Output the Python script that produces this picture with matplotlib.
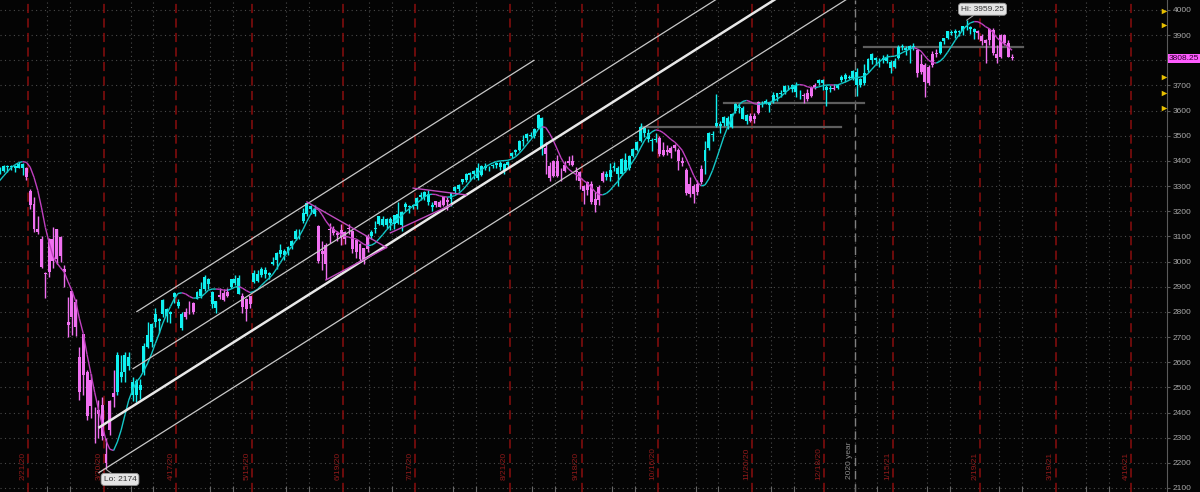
import numpy as np
import pandas as pd
from matplotlib import pyplot as plt
from matplotlib import transforms
from matplotlib.collections import LineCollection

plt.rcParams['font.family'] = ['Liberation Sans', 'DejaVu Sans']

# daily /ES bars, 2 Jan 2020 .. 4 Mar 2021 (one row per month)
opens = [
    3245, 3225, 3220, 3241, 3238, 3266, 3281, 3271, 3286, 3283, 3303, 3324, 3321, 3330, 3316, 3333, 3240, 3245, 3278, 3270, 3282,
    3230, 3252, 3300, 3335, 3343, 3325, 3353, 3360, 3378, 3374, 3378, 3372, 3386, 3372, 3280, 3228, 3130, 3090, 2950,
    2960, 3088, 3010, 3096, 2960, 2760, 2780, 2840, 2620, 2550, 2560, 2425, 2400, 2395, 2430, 2200, 2330, 2460, 2480, 2560, 2560, 2620,
    2520, 2470, 2510, 2560, 2710, 2680, 2760, 2770, 2790, 2810, 2790, 2860, 2840, 2790, 2780, 2800, 2800, 2850, 2890, 2890, 2930,
    2880, 2815, 2860, 2875, 2865, 2900, 2915, 2935, 2865, 2810, 2830, 2920, 2950, 2945, 2965, 2945, 3000, 3005, 3045, 3025,
    3040, 3060, 3090, 3115, 3160, 3190, 3220, 3210, 3140, 3030, 2990, 3130, 3130, 3105, 3125, 3090, 3130, 3120, 3040, 3070, 3010, 3050,
    3100, 3130, 3150, 3170, 3145, 3170, 3150, 3190, 3145, 3215, 3220, 3220, 3220, 3265, 3255, 3270, 3225, 3225, 3235, 3225, 3235, 3250,
    3280, 3290, 3315, 3325, 3345, 3350, 3370, 3345, 3380, 3370, 3380, 3385, 3390, 3360, 3385, 3420, 3435, 3445, 3480, 3490, 3505,
    3500, 3530, 3570, 3450, 3380, 3340, 3400, 3340, 3360, 3390, 3400, 3360, 3355, 3300, 3285, 3310, 3225, 3245, 3320, 3350, 3335,
    3370, 3370, 3350, 3405, 3370, 3420, 3445, 3480, 3530, 3510, 3480, 3485, 3490, 3425, 3445, 3430, 3450, 3445, 3400, 3365, 3270, 3300,
    3275, 3315, 3400, 3450, 3505, 3540, 3540, 3550, 3570, 3535, 3600, 3615, 3610, 3560, 3580, 3565, 3590, 3630, 3630, 3630,
    3640, 3655, 3670, 3675, 3695, 3685, 3700, 3665, 3660, 3670, 3660, 3695, 3710, 3720, 3680, 3690, 3685, 3690, 3720, 3740, 3730, 3730,
    3755, 3700, 3710, 3760, 3800, 3810, 3800, 3800, 3810, 3795, 3775, 3810, 3855, 3850, 3840, 3855, 3840, 3755, 3780,
    3710, 3780, 3825, 3830, 3875, 3890, 3910, 3915, 3912, 3915, 3935, 3925, 3925, 3915, 3895, 3870, 3880, 3920, 3825,
    3815, 3900, 3868, 3815,
]
highs = [
    3258, 3246, 3247, 3245, 3267, 3276, 3283, 3288, 3295, 3298, 3317, 3330, 3329, 3337, 3326, 3337, 3260, 3285, 3292, 3285, 3285,
    3265, 3305, 3338, 3348, 3348, 3355, 3376, 3383, 3385, 3383, 3385, 3397, 3393, 3375, 3290, 3258, 3182, 3100, 2960,
    3095, 3137, 3130, 3100, 2985, 2860, 2885, 2850, 2660, 2712, 2570, 2555, 2420, 2450, 2460, 2300, 2450, 2570, 2640, 2630, 2640, 2640,
    2540, 2535, 2535, 2675, 2760, 2755, 2815, 2775, 2850, 2815, 2805, 2880, 2850, 2800, 2815, 2845, 2840, 2885, 2920, 2945, 2935,
    2885, 2845, 2895, 2890, 2895, 2932, 2945, 2945, 2875, 2855, 2865, 2968, 2965, 2980, 2978, 2960, 3020, 3040, 3068, 3050,
    3062, 3085, 3128, 3130, 3212, 3233, 3225, 3225, 3145, 3080, 3075, 3155, 3140, 3120, 3150, 3120, 3150, 3125, 3085, 3075, 3055, 3110,
    3125, 3160, 3183, 3180, 3172, 3178, 3186, 3235, 3200, 3235, 3225, 3230, 3255, 3275, 3280, 3285, 3235, 3242, 3245, 3262, 3255, 3272,
    3300, 3308, 3330, 3352, 3355, 3365, 3390, 3385, 3390, 3380, 3388, 3395, 3398, 3390, 3398, 3435, 3448, 3482, 3505, 3510, 3515,
    3530, 3587, 3575, 3475, 3395, 3405, 3425, 3370, 3400, 3420, 3425, 3375, 3360, 3305, 3320, 3320, 3275, 3305, 3360, 3360, 3390,
    3395, 3380, 3410, 3430, 3425, 3450, 3480, 3549, 3535, 3525, 3490, 3510, 3500, 3475, 3465, 3458, 3468, 3450, 3415, 3370, 3335, 3310,
    3325, 3385, 3480, 3515, 3520, 3668, 3560, 3580, 3580, 3590, 3630, 3625, 3620, 3585, 3590, 3590, 3640, 3640, 3645, 3635,
    3675, 3672, 3680, 3700, 3700, 3705, 3712, 3680, 3670, 3685, 3698, 3710, 3725, 3725, 3700, 3700, 3705, 3705, 3740, 3750, 3740, 3760,
    3770, 3730, 3785, 3810, 3828, 3815, 3810, 3820, 3825, 3800, 3810, 3860, 3865, 3855, 3860, 3870, 3845, 3825, 3790,
    3780, 3835, 3845, 3875, 3890, 3915, 3920, 3925, 3920, 3935, 3959.25, 3935, 3930, 3920, 3905, 3885, 3930, 3928, 3860,
    3905, 3905, 3880, 3825,
]
lows = [
    3235, 3222, 3213, 3232, 3230, 3263, 3262, 3268, 3277, 3280, 3302, 3318, 3302, 3320, 3302, 3282, 3230, 3240, 3268, 3240, 3215,
    3220, 3250, 3290, 3325, 3318, 3315, 3350, 3356, 3355, 3365, 3358, 3370, 3343, 3325, 3210, 3118, 3108, 2973, 2855,
    2940, 2976, 2990, 2998, 2900, 2700, 2710, 2705, 2450, 2470, 2370, 2380, 2280, 2300, 2290, 2174, 2310, 2420, 2470, 2520, 2520, 2570,
    2445, 2440, 2455, 2550, 2655, 2660, 2740, 2715, 2780, 2760, 2755, 2835, 2815, 2730, 2770, 2790, 2790, 2850, 2855, 2885, 2890,
    2815, 2795, 2850, 2842, 2860, 2895, 2905, 2870, 2795, 2765, 2815, 2915, 2920, 2940, 2935, 2930, 2985, 2970, 3020, 3005,
    3025, 3050, 3085, 3090, 3155, 3180, 3190, 3180, 2995, 2965, 2930, 3075, 3105, 3080, 3065, 3070, 3110, 3035, 3015, 3000, 2990, 3040,
    3090, 3115, 3145, 3140, 3135, 3125, 3130, 3150, 3120, 3200, 3195, 3210, 3210, 3245, 3245, 3225, 3200, 3215, 3215, 3220, 3205, 3220,
    3270, 3280, 3310, 3315, 3320, 3330, 3325, 3340, 3365, 3360, 3370, 3370, 3365, 3350, 3370, 3410, 3425, 3440, 3460, 3480, 3495,
    3490, 3525, 3425, 3350, 3320, 3335, 3335, 3320, 3355, 3385, 3380, 3325, 3290, 3230, 3265, 3230, 3197, 3225, 3315, 3325, 3320,
    3360, 3300, 3345, 3355, 3365, 3415, 3440, 3475, 3495, 3475, 3440, 3475, 3420, 3420, 3425, 3410, 3440, 3365, 3380, 3265, 3255, 3233,
    3265, 3310, 3350, 3445, 3480, 3535, 3510, 3540, 3525, 3530, 3590, 3590, 3565, 3545, 3555, 3550, 3585, 3615, 3625, 3595,
    3630, 3640, 3655, 3665, 3680, 3675, 3655, 3645, 3630, 3640, 3655, 3685, 3700, 3680, 3620, 3675, 3680, 3685, 3715, 3715, 3725, 3720,
    3660, 3695, 3700, 3755, 3785, 3780, 3775, 3790, 3790, 3750, 3770, 3805, 3840, 3820, 3790, 3840, 3735, 3745, 3655,
    3700, 3775, 3815, 3825, 3865, 3885, 3900, 3890, 3895, 3900, 3920, 3905, 3885, 3885, 3860, 3790, 3860, 3820, 3790,
    3810, 3860, 3812, 3800,
]
closes = [
    3258, 3235, 3246, 3237, 3253, 3275, 3265, 3288, 3283, 3289, 3317, 3330, 3321, 3322, 3326, 3295, 3243, 3276, 3273, 3283, 3225,
    3249, 3297, 3334, 3345, 3327, 3352, 3358, 3379, 3374, 3380, 3370, 3386, 3373, 3338, 3226, 3128, 3116, 2979, 2954,
    3090, 3003, 3130, 3024, 2972, 2747, 2882, 2741, 2481, 2711, 2386, 2529, 2398, 2409, 2305, 2237, 2447, 2476, 2630, 2541, 2627, 2585,
    2470, 2527, 2489, 2664, 2659, 2750, 2790, 2762, 2846, 2783, 2800, 2875, 2823, 2737, 2799, 2798, 2837, 2878, 2863, 2940, 2912,
    2831, 2843, 2868, 2848, 2881, 2930, 2930, 2870, 2820, 2852, 2864, 2954, 2923, 2972, 2949, 2955, 2992, 3036, 3030, 3044,
    3056, 3081, 3123, 3112, 3194, 3232, 3207, 3190, 3002, 3041, 3067, 3125, 3113, 3115, 3098, 3118, 3131, 3050, 3084, 3009, 3053, 3100,
    3116, 3130, 3180, 3145, 3170, 3152, 3185, 3155, 3198, 3227, 3216, 3225, 3252, 3257, 3276, 3236, 3216, 3239, 3218, 3258, 3246, 3271,
    3295, 3306, 3328, 3349, 3351, 3360, 3334, 3380, 3373, 3373, 3382, 3390, 3375, 3386, 3397, 3431, 3444, 3479, 3485, 3508, 3500,
    3527, 3581, 3455, 3427, 3332, 3399, 3339, 3341, 3384, 3401, 3385, 3357, 3319, 3281, 3316, 3237, 3247, 3298, 3352, 3335, 3363,
    3381, 3348, 3409, 3361, 3419, 3447, 3477, 3534, 3512, 3489, 3483, 3484, 3427, 3443, 3436, 3453, 3465, 3401, 3391, 3271, 3310, 3270,
    3310, 3369, 3443, 3510, 3509, 3550, 3545, 3573, 3537, 3585, 3627, 3610, 3568, 3582, 3558, 3578, 3635, 3630, 3638, 3622,
    3662, 3669, 3667, 3699, 3692, 3702, 3673, 3668, 3663, 3647, 3695, 3701, 3722, 3709, 3695, 3687, 3690, 3703, 3735, 3727, 3732, 3756,
    3701, 3727, 3748, 3804, 3825, 3800, 3801, 3810, 3796, 3768, 3799, 3852, 3853, 3841, 3855, 3850, 3751, 3787, 3714,
    3774, 3826, 3830, 3872, 3887, 3916, 3911, 3910, 3916, 3935, 3933, 3931, 3914, 3907, 3877, 3881, 3925, 3829, 3811,
    3902, 3870, 3815, 3808.25,
]

holidays = ["2020-01-20", "2020-02-17", "2020-04-10", "2020-05-25", "2020-07-03", "2020-09-07",
            "2020-11-26", "2020-12-25", "2021-01-01", "2021-01-18", "2021-02-15", "2021-05-31"]
expirations = ["2020-02-21", "2020-03-20", "2020-04-17", "2020-05-15", "2020-06-19", "2020-07-17",
               "2020-08-21", "2020-09-18", "2020-10-16", "2020-11-20", "2020-12-18", "2021-01-15",
               "2021-02-19", "2021-03-19", "2021-04-16"]
year_break = "2020-12-31"
price_ticks = list(range(2100, 4001, 100))
alert_levels = [3995, 3940, 3735, 3670, 3610]
last_price = 3808.25
hi_day, hi_price = "2021-02-16", 3959.25
lo_day, lo_price = "2020-03-23", 2174

# drawings on the chart: (start day, start price, end day, end price)
channel = [("2020-04-02", 2800, "2020-09-01", 3801),
           ("2020-04-01", 2573, "2020-12-31", 4386),
           ("2020-03-19", 2339, "2020-12-31", 4238),
           ("2020-03-19", 2160, "2020-12-31", 4058)]
wedges = [("2020-06-08", 3237, "2020-07-08", 3056),
          ("2020-06-15", 2927, "2020-07-08", 3056),
          ("2020-07-17", 3292, "2020-08-06", 3265),
          ("2020-07-09", 3114, "2020-07-31", 3225)]
levels = [("2020-10-12", 3535, "2020-12-28", 3535),
          ("2020-11-11", 3630, "2021-01-06", 3630),
          ("2021-01-06", 3853, "2021-03-09", 3853)]

CYAN, MAGENTA = "#10f0f0", "#f070f0"
MA_UP, MA_DN = "#14c8c8", "#c040c0"

days = pd.bdate_range("2020-01-02", "2021-06-30")
days = days[~days.isin(pd.to_datetime(holidays))]
pos = {d.strftime("%Y-%m-%d"): i for i, d in enumerate(days)}

o = np.array(opens, float)
h = np.array(highs, float)
l = np.array(lows, float)
c = np.array(closes, float)
x = np.arange(len(c))


def wma(v, n):
    w = np.arange(1, n + 1, dtype=float)
    out = np.full(len(v), np.nan)
    for i in range(n - 1, len(v)):
        seg = v[i - n + 1:i + 1]
        if not np.isnan(seg).any():
            out[i] = seg @ w / w.sum()
    return out


def hull(v, n):
    return wma(2 * wma(v, n // 2) - wma(v, n), int(np.sqrt(n)))


ma = hull(c, 20)
rising = np.ones(len(c), bool)
rising[1:] = ~(np.diff(ma) < 0)
cols = np.where(rising, CYAN, MAGENTA)

fig = plt.figure(figsize=(12, 4.92), dpi=100, facecolor="#040404")
ax = fig.add_axes([0, 0, 1167 / 1200, 1])
ax.set_facecolor("#040404")

ref = pos["2020-02-21"]
px = 3.791  # pixels per bar
x_lo, x_hi = ref - 26.4 / px, ref + (1167 - 26.4) / px

# grid
for p in price_ticks:
    ax.axhline(p, color="#4a4a4a", lw=0.8, ls=(0, (1, 3)), zorder=0)
month_end = pd.Series(days).groupby([days.year, days.month]).max()
grid_x = []
for d in month_end:
    i = pos[d.strftime("%Y-%m-%d")]
    grid_x += [g for g in (i + 0.5, i + 6.5) if x_lo < g < x_hi]
for gx in grid_x:
    ax.axvline(gx, color="#4a4a4a", lw=0.8, ls=(0, (1, 3)), zorder=0)

# expiration lines and labels
lab_tr = transforms.blended_transform_factory(ax.transData, ax.transAxes)
for e in expirations:
    xe = pos[e] + 0.5
    ax.axvline(xe, color="#8a0e0e", lw=1.1, ls=(0, (6, 3.5)), zorder=1)
    m, d, y = e[5:7], e[8:10], e[2:4]
    ax.text(xe - 0.45, 1 - 480 / 492, f"{int(m)}/{int(d)}/{y}", rotation=90, ha="right", va="bottom",
            fontsize=6, color="#8f1a1a", transform=lab_tr)
xy = pos[year_break] + 0.5
ax.axvline(xy, color="#808080", lw=1.0, ls=(0, (6, 3.5)), zorder=1)
ax.text(xy - 0.45, 1 - 479 / 492, "2020 year", rotation=90, ha="right", va="bottom",
        fontsize=6, color="#8a8a8a", transform=lab_tr)

# candles
ax.vlines(x, l, h, colors=cols, lw=1.0, zorder=3)
body_lo = np.minimum(o, c)
body_hi = np.maximum(o, c)
ax.bar(x, np.maximum(body_hi - body_lo, 2), bottom=body_lo, width=0.78, color=cols, lw=0, zorder=3)

# hull average, coloured by slope
ok = ~np.isnan(ma)
xs, ys = x[ok], ma[ok]
segs = np.stack([np.column_stack([xs[:-1], ys[:-1]]), np.column_stack([xs[1:], ys[1:]])], axis=1)
seg_cols = np.where(np.diff(ys) >= 0, MA_UP, MA_DN)
ax.add_collection(LineCollection(segs, colors=seg_cols, linewidths=1.0, zorder=4))

# drawings
for k, (d0, p0, d1, p1) in enumerate(channel):
    ax.plot([pos[d0], pos[d1]], [p0, p1], color="#e8e8e8" if k == 2 else "#c8c8c8",
            lw=1.8 if k == 2 else 0.9, zorder=5, solid_capstyle="butt")
for d0, p0, d1, p1 in wedges:
    ax.plot([pos[d0], pos[d1]], [p0, p1], color="#c04cc0", lw=1.0, zorder=5)
for d0, p0, d1, p1 in levels:
    ax.plot([pos[d0], pos[d1]], [p0, p1], color="#5e5e5e", lw=1.6, zorder=2)

# hi / lo bubbles
bub = dict(boxstyle="round,pad=0.3,rounding_size=0.35", fc="#e4e4e4", ec="#9a9a9a", lw=0.6)
ax.annotate(f"Hi: {hi_price:.2f}", xy=(pos[hi_day], hi_price), xytext=(16, 11), textcoords="offset pixels",
            ha="center", va="center", fontsize=6, color="#333333", bbox=bub,
            arrowprops=dict(arrowstyle="-", color="#b0b0b0", lw=0.7, shrinkA=0, shrinkB=0), zorder=6)
ax.annotate(f"Lo: {lo_price}", xy=(pos[lo_day], lo_price), xytext=(14, -10), textcoords="offset pixels",
            ha="center", va="center", fontsize=6, color="#333333", bbox=bub,
            arrowprops=dict(arrowstyle="-", color="#b0b0b0", lw=0.7, shrinkA=0, shrinkB=0), zorder=6)

# right price axis (the 3800 label sits under the last-price tag)
for s in ["left", "top", "bottom"]:
    ax.spines[s].set_visible(False)
ax.spines["right"].set_color("#5a5a5a")
ax.yaxis.tick_right()
ax.set_yticks(price_ticks)
ax.set_yticklabels(["" if abs(p - last_price) < 40 else str(p) for p in price_ticks])
ax.tick_params(axis="y", colors="#5a5a5a", labelcolor="#a8a8a8", labelsize=6, length=2, pad=2)
ax.set_xticks(grid_x)
ax.tick_params(axis="x", direction="in", length=4, colors="#6a6a6a", labelbottom=False)
ax.set_xlim(x_lo, x_hi)
ax.set_ylim(2084.1, 4039.7)

ax_tr = transforms.blended_transform_factory(ax.transAxes, ax.transData)
ax.scatter([1164 / 1167] * len(alert_levels), alert_levels, marker=">", s=16, color="#e8c000",
           transform=ax_tr, clip_on=False, zorder=7, linewidths=0)
ax.text(1.0017, last_price, f"{last_price:.2f}", transform=ax_tr, ha="left", va="center", fontsize=6,
        color="#2a002a", clip_on=False, zorder=8,
        bbox=dict(boxstyle="square,pad=0.12", fc="#ff5cff", ec="none"))

fig.savefig("out.png", dpi=100, facecolor=fig.get_facecolor())
